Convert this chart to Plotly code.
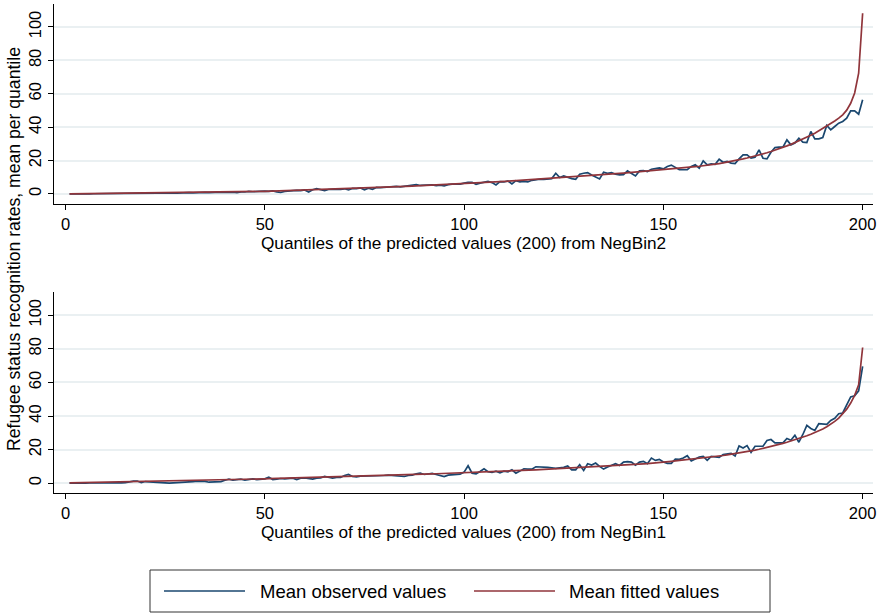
import plotly.graph_objects as go

quantiles = list(range(1, 201))

nb2_observed = [
    0.0, 0.1, 0.05, 0.1, 0.2, 0.1, 0.15, 0.2, 0.25, 0.2,
    0.3, 0.2, 0.3, 0.35, 0.25, 0.4, 0.3, 0.45, 0.35, 0.5,
    0.4, 0.5, 0.55, 0.45, 0.6, 0.5, 0.7, 0.55, 0.75, 0.6,
    0.8, 0.7, 0.9, 0.75, 0.95, 0.8, 1.0, 0.9, 1.1, 0.95,
    1.2, 1.05, 0.8, 1.3, 1.2, 1.5, 1.35, 1.6, 1.45, 1.7,
    1.6, 1.8, 1.3, 0.9, 1.6, 1.9, 2.2, 2.1, 2.0, 2.4,
    1.2, 2.5, 3.2, 2.6, 2.0, 2.7, 3.0, 2.9, 2.8, 3.1,
    2.4, 3.3, 3.2, 3.6, 2.5, 3.5, 2.8, 3.9, 3.8, 4.0,
    4.2, 4.1, 4.5, 4.3, 4.6, 4.7, 5.0, 5.6, 5.1, 5.2,
    5.2, 5.4, 5.0, 5.3, 4.8, 5.6, 5.9, 5.7, 5.9, 6.5,
    7.0, 7.0, 5.8, 6.5, 7.0, 7.5, 6.8, 5.4, 7.4, 7.2,
    7.8, 6.0, 8.0, 7.2, 7.6, 7.2, 8.2, 8.6, 8.8, 8.8,
    9.2, 9.2, 12.4, 9.8, 10.8, 9.8, 9.2, 8.8, 11.8, 12.4,
    12.8, 11.4, 10.4, 9.0, 13.0, 12.4, 12.8, 11.8, 11.4, 11.6,
    13.8, 12.4, 10.8, 13.8, 14.0, 13.4, 14.8, 15.2, 15.6, 15.0,
    16.5, 17.3, 16.0, 14.5, 14.5, 14.5, 16.5, 17.5, 15.5, 19.8,
    17.5, 18.0, 17.8, 20.8, 19.0, 19.5, 18.5, 18.2, 21.0, 23.4,
    23.4, 21.5, 22.0, 26.4, 21.4, 21.0, 25.0, 27.8, 28.0, 28.0,
    32.4, 29.4, 30.5, 33.4, 31.0, 30.8, 37.4, 33.0, 33.0, 33.8,
    41.0, 38.4, 40.4, 42.4, 43.4, 45.4, 49.8, 49.8, 47.8, 56.4,
]

nb2_fitted = [
    0.05, 0.07, 0.09, 0.11, 0.13, 0.15, 0.17, 0.19, 0.21, 0.23,
    0.25, 0.27, 0.29, 0.31, 0.33, 0.35, 0.37, 0.39, 0.41, 0.43,
    0.45, 0.47, 0.5, 0.52, 0.55, 0.57, 0.6, 0.63, 0.66, 0.69,
    0.72, 0.75, 0.79, 0.82, 0.86, 0.9, 0.94, 0.98, 1.02, 1.07,
    1.11, 1.16, 1.21, 1.26, 1.31, 1.37, 1.43, 1.49, 1.55, 1.61,
    1.68, 1.75, 1.82, 1.89, 1.96, 2.03, 2.1, 2.18, 2.26, 2.34,
    2.42, 2.5, 2.58, 2.66, 2.74, 2.82, 2.9, 2.98, 3.06, 3.14,
    3.22, 3.3, 3.38, 3.47, 3.56, 3.65, 3.74, 3.83, 3.92, 4.01,
    4.1, 4.2, 4.3, 4.4, 4.5, 4.6, 4.7, 4.8, 4.91, 5.02,
    5.13, 5.24, 5.35, 5.46, 5.57, 5.68, 5.79, 5.9, 6.01, 6.12,
    6.25, 6.39, 6.53, 6.67, 6.81, 6.95, 7.09, 7.23, 7.37, 7.51,
    7.65, 7.8, 7.95, 8.1, 8.25, 8.4, 8.55, 8.7, 8.86, 9.02,
    9.18, 9.34, 9.5, 9.66, 9.82, 9.98, 10.15, 10.32, 10.49, 10.66,
    10.83, 11.0, 11.18, 11.36, 11.54, 11.72, 11.9, 12.09, 12.28, 12.47,
    12.66, 12.86, 13.06, 13.26, 13.46, 13.67, 13.88, 14.09, 14.3, 14.52,
    14.75, 14.98, 15.2, 15.43, 15.66, 15.89, 16.12, 16.36, 16.6, 16.84,
    17.16, 17.5, 17.85, 18.22, 18.6, 19.0, 19.45, 19.95, 20.45, 21.0,
    21.55, 22.1, 22.7, 23.3, 24.0, 24.7, 25.45, 26.2, 27.05, 27.9,
    28.8, 29.7, 30.7, 31.7, 32.8, 33.9, 35.1, 36.4, 37.8, 39.3,
    40.8, 42.2, 43.7, 45.4, 47.4, 50.2, 54.3, 60.5, 72.3, 108.2,
]

nb1_observed = [
    0.1, 0.0, 0.1, 0.05, 0.1, 0.15, 0.1, 0.2, 0.1, 0.15,
    0.2, 0.1, 0.2, 0.15, 0.3, 0.8, 1.2, 1.3, 0.3, 1.0,
    0.8, 0.6, 0.3, 0.1, 0.0, 0.0, 0.2, 0.3, 0.5, 0.6,
    0.9, 1.0, 1.3, 1.4, 1.1, 0.6, 0.7, 1.0, 1.0, 1.8,
    2.4, 1.8, 2.1, 2.4, 1.8, 2.4, 2.6, 2.2, 2.4, 2.6,
    3.6, 2.2, 2.4, 2.8, 2.6, 2.8, 3.0, 2.2, 3.0, 3.2,
    2.6, 2.4, 3.0, 3.2, 4.0, 3.4, 3.0, 3.4, 3.4, 4.6,
    5.2, 4.0, 3.8, 4.2, 4.2, 4.3, 4.4, 4.4, 4.6, 4.6,
    4.8, 4.6, 4.2, 4.2, 4.0, 4.6, 4.8, 5.6, 6.0, 5.2,
    5.4, 5.8, 5.2, 4.8, 4.0, 4.8, 5.0, 5.0, 5.4, 6.6,
    10.4, 6.0, 5.6, 7.0, 8.6, 6.8, 6.4, 7.2, 6.2, 7.2,
    6.8, 8.0, 6.0, 7.2, 8.6, 8.4, 8.4, 9.8, 9.8, 9.6,
    9.4, 9.2, 8.8, 9.2, 9.4, 10.2, 8.0, 8.0, 11.0, 7.6,
    11.6, 10.8, 12.0, 10.0, 8.4, 9.6, 10.6, 11.6, 10.6, 12.6,
    12.8, 12.6, 10.8, 12.6, 13.0, 11.6, 15.0, 13.6, 14.2, 12.6,
    11.8, 11.8, 14.4, 14.2, 15.0, 16.4, 13.2, 14.6, 15.6, 16.0,
    13.6, 16.0, 15.8, 15.4, 17.0, 17.4, 17.8, 16.2, 22.2, 21.0,
    22.4, 18.4, 22.0, 22.0, 22.0, 25.4, 26.0, 24.0, 24.2, 24.0,
    26.6, 25.6, 28.6, 24.4, 29.0, 34.4, 32.6, 31.4, 35.4, 35.4,
    35.0, 37.4, 38.6, 41.4, 41.8, 46.6, 51.4, 52.0, 55.0, 69.6,
]

nb1_fitted = [
    0.15, 0.19, 0.24, 0.28, 0.33, 0.37, 0.42, 0.46, 0.51, 0.56,
    0.6, 0.65, 0.7, 0.74, 0.79, 0.84, 0.88, 0.93, 0.98, 1.03,
    1.08, 1.13, 1.18, 1.23, 1.28, 1.33, 1.38, 1.43, 1.48, 1.53,
    1.58, 1.63, 1.68, 1.74, 1.79, 1.84, 1.89, 1.95, 2.0, 2.06,
    2.11, 2.17, 2.22, 2.28, 2.33, 2.39, 2.45, 2.5, 2.56, 2.62,
    2.68, 2.74, 2.8, 2.86, 2.92, 2.98, 3.04, 3.1, 3.16, 3.23,
    3.29, 3.35, 3.42, 3.48, 3.55, 3.61, 3.68, 3.75, 3.81, 3.88,
    3.95, 4.02, 4.09, 4.16, 4.23, 4.3, 4.37, 4.45, 4.52, 4.6,
    4.67, 4.75, 4.82, 4.9, 4.98, 5.06, 5.14, 5.22, 5.3, 5.38,
    5.46, 5.54, 5.63, 5.71, 5.8, 5.88, 5.97, 6.06, 6.15, 6.24,
    6.33, 6.42, 6.51, 6.6, 6.7, 6.79, 6.89, 6.98, 7.08, 7.18,
    7.28, 7.38, 7.48, 7.58, 7.68, 7.79, 7.89, 8.0, 8.11, 8.22,
    8.33, 8.44, 8.55, 8.67, 8.78, 8.9, 9.02, 9.14, 9.26, 9.38,
    9.51, 9.63, 9.76, 9.89, 10.02, 10.16, 10.29, 10.43, 10.57, 10.71,
    10.86, 11.0, 11.15, 11.3, 11.46, 11.62, 11.78, 11.94, 12.11, 12.28,
    12.8, 13.03, 13.26, 13.5, 13.74, 13.98, 14.23, 14.48, 14.74, 15.0,
    15.28, 15.57, 15.87, 16.18, 16.5, 16.83, 17.18, 17.54, 17.91, 18.3,
    18.75, 19.22, 19.71, 20.22, 20.75, 21.3, 21.87, 22.46, 23.08, 23.72,
    24.39, 25.09, 25.82, 26.59, 27.4, 28.26, 29.17, 30.14, 31.18, 32.3,
    33.6, 35.1, 36.8, 38.8, 41.2, 44.1, 47.7, 52.3, 58.6, 80.8,
]

x_ticks = [0, 50, 100, 150, 200]
y_ticks = [0, 20, 40, 60, 80, 100]
x_titles = ["Quantiles of the predicted values (200) from NegBin2",
            "Quantiles of the predicted values (200) from NegBin1"]
y_title = "Refugee status recognition rates, mean per quantile"
series_names = ["Mean observed values", "Mean fitted values"]

BLUE = "#1a476f"
RED = "#90353b"
FONT = "Liberation Sans, Arial, sans-serif"
W, H = 877, 613
TICK_SIZE = 16.5
TITLE_SIZE = 17.2
YTITLE_SIZE = 17.6
LEGEND_SIZE = 18.5

def py(pix):
    return 1 - pix / H

def px(pix):
    return pix / W

fig = go.Figure()

panels = [
    (nb2_observed, nb2_fitted, "x", "y"),
    (nb1_observed, nb1_fitted, "x2", "y2"),
]
for obs, fit, xa, ya in panels:
    fig.add_trace(go.Scatter(x=quantiles, y=obs, mode="lines", name=series_names[0],
                             line=dict(color=BLUE, width=1.7), xaxis=xa, yaxis=ya,
                             showlegend=False))
    fig.add_trace(go.Scatter(x=quantiles, y=fit, mode="lines", name=series_names[1],
                             line=dict(color=RED, width=1.7), xaxis=xa, yaxis=ya,
                             showlegend=False))

xdom = [px(54), px(873)]
xaxis_common = dict(range=[-2.9, 202.6], tickvals=x_ticks, ticks="outside", ticklen=5,
                    tickcolor="black", showline=True, linecolor="black", linewidth=1,
                    showgrid=False, zeroline=False, domain=xdom, automargin=False,
                    tickfont=dict(family=FONT, size=TICK_SIZE, color="black"))
yaxis_common = dict(range=[-6.0, 114], tickvals=y_ticks, ticks="outside", ticklen=5,
                    tickcolor="black", showline=True, linecolor="black", linewidth=1,
                    showgrid=True, gridcolor="#eaf0f2", gridwidth=1.5, zeroline=False,
                    tickangle=-90, automargin=False,
                    tickfont=dict(family=FONT, size=TICK_SIZE, color="black"))

fig.update_layout(
    width=W, height=H,
    margin=dict(l=0, r=0, t=0, b=0, autoexpand=False),
    paper_bgcolor="white", plot_bgcolor="white",
    font=dict(family=FONT, size=16, color="black"),
    xaxis=dict(**xaxis_common, anchor="y"),
    yaxis=dict(**yaxis_common, anchor="x", domain=[py(204), py(3.6)]),
    xaxis2=dict(**xaxis_common, anchor="y2"),
    yaxis2=dict(**yaxis_common, anchor="x2", domain=[py(493.3), py(291.7)]),
    showlegend=False,
)

annotations = []
for title, ypix in zip(x_titles, [243, 532]):
    annotations.append(dict(text=title, x=px(463.5), y=py(ypix), xref="paper", yref="paper",
                            showarrow=False, xanchor="center", yanchor="middle",
                            font=dict(family=FONT, size=TITLE_SIZE, color="black")))
annotations.append(dict(text=y_title, x=px(14), y=py(249), xref="paper", yref="paper",
                        showarrow=False, textangle=-90, xanchor="center", yanchor="middle",
                        font=dict(family=FONT, size=YTITLE_SIZE, color="black")))

# legend box
shapes = [dict(type="rect", xref="paper", yref="paper", x0=px(150), x1=px(770),
               y0=py(612), y1=py(570), line=dict(color="#333333", width=1),
               fillcolor="white", layer="below")]
for (lx0, lx1, tx, name, col) in [(164, 245, 258, series_names[0], BLUE),
                                   (474, 555, 567, series_names[1], RED)]:
    shapes.append(dict(type="line", xref="paper", yref="paper", x0=px(lx0), x1=px(lx1),
                       y0=py(591), y1=py(591), line=dict(color=col, width=1.7)))
    annotations.append(dict(text=name, x=px(tx), y=py(591), xref="paper", yref="paper",
                            showarrow=False, xanchor="left", yanchor="middle",
                            font=dict(family=FONT, size=LEGEND_SIZE, color="black")))

fig.update_layout(annotations=annotations, shapes=shapes)
fig.write_html("out.html", config={"displayModeBar": False},
               post_script="document.body.style.margin='0';document.body.style.padding='0';")
